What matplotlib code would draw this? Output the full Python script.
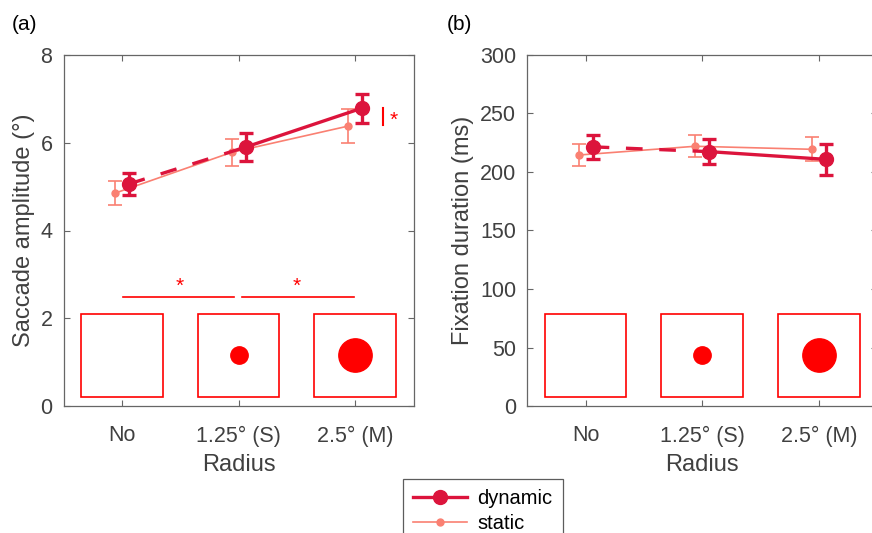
import numpy as np
import matplotlib.pyplot as plt
import matplotlib.transforms as mtransforms
from matplotlib.patches import Rectangle

plt.rcParams['font.family'] = ['Liberation Sans', 'DejaVu Sans']

# Conditions
radius_labels = ['No', '1.25° (S)', '2.5° (M)']
stim_size = [0, 12.5, 24]   # marker size of the stimulus dot in the inset boxes

# (a) Saccade amplitude
amp_dyn = [5.06, 5.90, 6.79]
amp_dyn_err = [0.25, 0.32, 0.33]
amp_sta = [4.85, 5.78, 6.38]
amp_sta_err = [0.28, 0.30, 0.38]

# (b) Fixation duration
dur_dyn = [221.5, 217.4, 210.8]
dur_dyn_err = [10.0, 10.6, 13.0]
dur_sta = [214.5, 222.0, 219.4]
dur_sta_err = [9.7, 9.2, 10.4]

c_dyn = '#DC143C'
c_sta = '#FA8072'
c_sig = '#FF0000'
txt_col = '#404040'
ax_col = '#666666'

fig = plt.figure(figsize=(8.72, 5.33), dpi=100)
W, H = 872.0, 533.0
ax1 = fig.add_axes([63.5 / W, (H - 406) / H, 350 / W, 351 / H])
ax2 = fig.add_axes([527.3 / W, (H - 406) / H, 350 / W, 351 / H])

x = np.arange(1, 4)
off = 0.06


def draw_panel(ax, dyn, dyn_err, sta, sta_err, ylim, yticks, ylabel):
    # static
    ax.errorbar(x - off, sta, yerr=sta_err, color=c_sta, lw=1.2, marker='o', ms=5,
                capsize=5, capthick=1.2, elinewidth=1.2, zorder=3)
    # dynamic: dashed from No to S, solid from S to M
    ax.plot(x[:2] + off, dyn[:2], color=c_dyn, lw=2.4, dashes=(5, 5), zorder=4)
    ax.plot(x[1:] + off, dyn[1:], color=c_dyn, lw=2.4, zorder=4)
    ax.errorbar(x + off, dyn, yerr=dyn_err, color=c_dyn, lw=0, marker='o', ms=10,
                capsize=5, capthick=2.4, elinewidth=2.4, zorder=5)

    # stimulus sketches
    trans = mtransforms.blended_transform_factory(ax.transData, ax.transAxes)
    for xi, s in zip(x, stim_size):
        ax.add_patch(Rectangle((xi - 0.35, 0.027), 0.7, 0.236, transform=trans,
                               fill=False, ec=c_sig, lw=1.2, zorder=2))
        if s > 0:
            ax.plot(xi, 0.145, 'o', ms=s, color=c_sig, mec=c_sig, transform=trans, zorder=2)

    ax.set_xlim(0.5, 3.5)
    ax.set_ylim(*ylim)
    ax.set_yticks(yticks)
    ax.set_xticks(x)
    ax.set_xticklabels(radius_labels)
    ax.set_xlabel('Radius', fontsize=17, color=txt_col, labelpad=5)
    ax.set_ylabel(ylabel, fontsize=17, color=txt_col, labelpad=4)
    ax.tick_params(direction='in', length=4, width=0.8, colors=ax_col, labelcolor=txt_col,
                   labelsize=15.5, top=True, right=True, pad=8)
    ax.tick_params(axis='x', pad=14)
    for sp in ax.spines.values():
        sp.set_color(ax_col)
        sp.set_linewidth(0.9)


draw_panel(ax1, amp_dyn, amp_dyn_err, amp_sta, amp_sta_err, (0, 8), [0, 2, 4, 6, 8],
           'Saccade amplitude (°)')
draw_panel(ax2, dur_dyn, dur_dyn_err, dur_sta, dur_sta_err, (0, 300),
           np.arange(0, 301, 50), 'Fixation duration (ms)')

# significance marks in panel (a)
ax1.plot([3.24, 3.24], [6.40, 6.79], color=c_sig, lw=1.5, clip_on=False)
ax1.text(3.33, 6.50, '*', color=c_sig, fontsize=15, ha='center', va='center', clip_on=False)
ax1.plot([1.01, 1.96], [2.48, 2.48], color=c_sig, lw=1.2)
ax1.plot([2.03, 2.99], [2.48, 2.48], color=c_sig, lw=1.2)
ax1.text(1.5, 2.72, '*', color=c_sig, fontsize=15, ha='center', va='center')
ax1.text(2.5, 2.72, '*', color=c_sig, fontsize=15, ha='center', va='center')

fig.text(12 / W, 1 - 25 / H, '(a)', fontsize=15, color='black', va='center')
fig.text(447 / W, 1 - 25 / H, '(b)', fontsize=15, color='black', va='center')

# legend
h_dyn, = ax1.plot([], [], color=c_dyn, lw=2.4, marker='o', ms=10)
h_sta, = ax1.plot([], [], color=c_sta, lw=1.2, marker='o', ms=5)
leg = fig.legend([h_dyn, h_sta], ['dynamic', 'static'], loc='upper left',
                 bbox_to_anchor=(403 / W, 1 - 479 / H), borderaxespad=0, fontsize=14.5,
                 frameon=True, fancybox=False, edgecolor='#333333', handlelength=2.7,
                 borderpad=0.5, labelspacing=0.3, handletextpad=0.5)
leg.get_frame().set_linewidth(0.9)

fig.savefig('out.png', dpi=100)
